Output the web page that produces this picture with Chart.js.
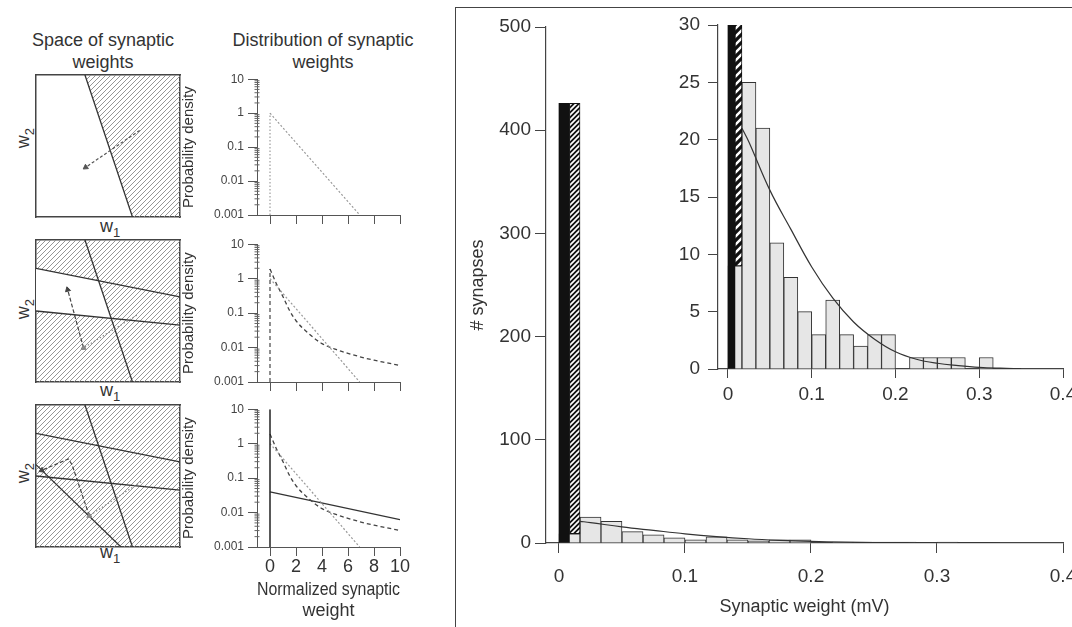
<!DOCTYPE html>
<html>
<head>
<meta charset="utf-8">
<title>Synaptic weights</title>
<script src="https://cdn.jsdelivr.net/npm/chart.js@4.4.1/dist/chart.umd.min.js"></script>
<style>
  body { margin:0; width:1072px; height:627px; overflow:hidden; background:#fff; position:relative;
         font-family:"Liberation Sans", Arial, sans-serif; color:#333; }
  canvas { position:absolute; }
  .head { position:absolute; width:220px; text-align:center; font-size:18px; line-height:22px; }
  .w { position:absolute; width:30px; height:24px; line-height:24px; text-align:center; font-size:18px; color:#333; }
  .w sub { font-size:13px; color:#333; }
  .rot { transform:rotate(-90deg); }
  .frame { position:absolute; left:455px; top:7px; width:640px; height:640px;
           border-left:1.5px solid #444; border-top:1.5px solid #444; }
</style>
</head>
<body>
<div class="frame"></div>
<div class="head" style="left:-7px;top:29px">Space of synaptic<br>weights</div>
<div class="head" style="left:213px;top:29px">Distribution of synaptic<br>weights</div>

<div class="w rot" style="left:8px;top:126px">w<sub>2</sub></div>
<div class="w rot" style="left:8px;top:297px">w<sub>2</sub></div>
<div class="w rot" style="left:8px;top:461px">w<sub>2</sub></div>
<div class="w" style="left:95px;top:214px">w<sub>1</sub></div>
<div class="w" style="left:95px;top:378px">w<sub>1</sub></div>
<div class="w" style="left:95px;top:540px">w<sub>1</sub></div>

<script>
// weight space panels, w1 and w2 both run 0..1
const steep = [[0.34, 1], [0.67, 0]];
const cut1 = [[0, 0.80], [1, 0.60]];
const cut2 = [[0, 0.50], [1, 0.40]];
const cut3 = [[0, 0.58], [0.59, 0]];
const shade1 = [[0.34, 1], [1, 1], [1, 0], [0.67, 0]];
const shadeAll = [[0, 0], [1, 0], [1, 1], [0, 1]];
const clear2 = [[0, 0.80], [0.435, 0.713], [0.522, 0.448], [0, 0.50]];
const path1 = [[0.72, 0.61], [0.345, 0.35]];
const path2a = [[0.70, 0.47], [0.33, 0.24]];
const path2b = [[0.33, 0.24], [0.22, 0.65]];
const path3a = [[0.73, 0.46], [0.37, 0.22]];
const path3b = [[0.37, 0.22], [0.25, 0.58], [0.225, 0.62], [0.04, 0.54]];

// probability density panels
const normX = [0, 0.5, 1, 1.5, 2, 3, 4, 5, 6, 7, 8, 9, 10];
const heavyY = [1.9, 0.7, 0.3, 0.12, 0.06, 0.025, 0.013, 0.009, 0.0068, 0.0053, 0.0043, 0.0036, 0.003];
const expX = [0, 6.9];
const expY = [1, 0.001];
const flatX = [0, 10];
const flatY = [0.04, 0.0062];
const normMin = -1;
const normTicks = [0, 2, 4, 6, 8, 10];
const decadeTicks = [0.001, 0.01, 0.1, 1, 10];
const minorSteps = [2, 3, 4, 5, 6, 7, 8, 9];

// measured histogram (mV)
const binStart = [0, 0.0167, 0.0333, 0.05, 0.0667, 0.0833, 0.1, 0.1167, 0.1333, 0.15,
                  0.1667, 0.1833, 0.2, 0.2167, 0.2333, 0.25, 0.2667, 0.2833, 0.3];
const binCount = [9, 25, 21, 11, 8, 5, 3, 6, 3, 2, 3, 3, 0, 1, 1, 1, 1, 0, 1];
const binW = 0.0167;
const silentEdges = [0, 0.0083];
const silentCount = 426;
const hatchEdges = [0.0083, 0.0167];
const hatchCounts = [9, 426];
const fitX = [0.0167, 0.025, 0.05, 0.075, 0.1, 0.125, 0.15, 0.175, 0.2, 0.225, 0.25, 0.275, 0.3, 0.325, 0.35];
const fitY = [21, 19.8, 15.6, 12.2, 8.9, 6.2, 4.1, 2.6, 1.5, 0.85, 0.5, 0.3, 0.15, 0.07, 0.02];
const weightTicks = [0, 0.1, 0.2, 0.3, 0.4];

Chart.defaults.font.family = '"Liberation Sans", Arial, sans-serif';
Chart.defaults.color = '#333';
Chart.defaults.animation = false;
Chart.defaults.plugins.legend.display = false;
Chart.defaults.plugins.tooltip.enabled = false;

function place(id, x, y, w, h) {
    var c = document.createElement('canvas');
    c.id = id;
    c.width = w; c.height = h;
    c.style.left = x + 'px'; c.style.top = y + 'px';
    c.style.width = w + 'px'; c.style.height = h + 'px';
    document.body.appendChild(c);
    return c.getContext('2d');
}

function stripes(size, bg, fg, lw) {
    var c = document.createElement('canvas');
    c.width = c.height = size;
    var g = c.getContext('2d');
    if (bg) { g.fillStyle = bg; g.fillRect(0, 0, size, size); }
    g.strokeStyle = fg;
    g.lineWidth = lw;
    g.beginPath();
    g.moveTo(-1, size + 1); g.lineTo(size + 1, -1);
    g.moveTo(-1, 1); g.lineTo(1, -1);
    g.moveTo(size - 1, size + 1); g.lineTo(size + 1, size - 1);
    g.stroke();
    return g.createPattern(c, 'repeat');
}

const pts = a => a.map(p => ({x: p[0], y: p[1]}));
const zip = (xs, ys) => xs.map((x, i) => ({x: x, y: ys[i]}));
const sqHatch = stripes(5, null, '#8a8a8a', 0.9);

function area(p, color, order) {
    return { data: pts(p), fill: 'shape', backgroundColor: color, borderColor: 'rgba(0,0,0,0)',
             borderWidth: 0, pointRadius: 0, order: order };
}
function cut(p) {
    return { data: pts(p), fill: false, borderColor: '#333', borderWidth: 1.3, pointRadius: 0, order: 2 };
}
function arrow(p, color, dash) {
    const n = p.length;
    const dx = p[n - 1][0] - p[n - 2][0], dy = p[n - 1][1] - p[n - 2][1];
    return { data: pts(p), fill: false, borderColor: color, borderWidth: 1.2, borderDash: dash,
             pointRadius: c => c.dataIndex === n - 1 ? 3 : 0, pointStyle: 'triangle',
             pointRotation: Math.atan2(dx, dy) * 180 / Math.PI,
             pointBackgroundColor: color, pointBorderColor: color, pointBorderWidth: 1, order: 1 };
}

function weightSquare(id, top, datasets) {
    const ctx = place(id, 31, top - 5, 154, 152);
    const edge = (axis, position) => ({
        type: 'linear', axis: axis, position: position, min: 0, max: 1,
        grid: { display: false }, ticks: { display: false },
        border: { display: true, color: '#444', width: 1.5 },
        afterFit: s => { if (axis === 'x') s.height = 0; else s.width = 0; }
    });
    return new Chart(ctx, {
        type: 'line',
        data: { datasets: datasets },
        options: {
            responsive: false, devicePixelRatio: 1,
            layout: { padding: 5 },
            scales: { x: edge('x', 'bottom'), y: edge('y', 'left'), x2: edge('x', 'top'), y2: edge('y', 'right') }
        }
    });
}

weightSquare('sq1', 75, [
    area(shade1, sqHatch, 10),
    cut(steep),
    arrow(path1, '#555', [3, 2])
]);
weightSquare('sq2', 240, [
    area(shadeAll, sqHatch, 10),
    area(clear2, '#fff', 9),
    cut(steep), cut(cut1), cut(cut2),
    arrow(path2a, '#888', [1.5, 2]),
    arrow(path2b, '#444', [4, 2])
]);
weightSquare('sq3', 405, [
    area(shadeAll, sqHatch, 10),
    cut(steep), cut(cut1), cut(cut2), cut(cut3),
    arrow(path3a, '#888', [1.5, 2]),
    arrow(path3b, '#444', [4, 2])
]);

// log density panels
const decadeLabel = v => v >= 1 ? String(Math.round(v)) : v.toFixed(Math.round(-Math.log10(v)));
const minorTicks = decadeTicks.slice(0, -1).flatMap(d => minorSteps.map(k => d * k));

function densityPanel(id, top, height, labels, datasets) {
    const xH = labels ? 80 : 13;
    const ctx = place(id, 175, top - 8, 237, 8 + height + xH);
    // the short minor log ticks, sitting on the y axis line
    datasets.push({ data: minorTicks.map(v => ({x: normMin, y: v})), showLine: false, pointStyle: 'line',
                    pointRadius: 2.5, pointBorderColor: '#666', pointBorderWidth: 1, clip: false });
    return new Chart(ctx, {
        type: 'line',
        data: { datasets: datasets },
        options: {
            responsive: false, devicePixelRatio: 1,
            layout: { padding: { top: 8, right: 12, left: 0, bottom: 0 } },
            scales: {
                x: {
                    type: 'linear', min: normMin, max: 10,
                    afterBuildTicks: s => { s.ticks = normTicks.map(v => ({value: v})); },
                    afterFit: s => { s.height = xH; },
                    grid: { drawOnChartArea: false, tickLength: 9, color: '#555' },
                    border: { color: '#555' },
                    ticks: { display: labels, padding: 0, font: { size: 18 }, color: '#333', maxRotation: 0, autoSkip: false },
                    title: {
                        display: labels, text: ['Normalized synaptic', 'weight'],
                        font: { size: 18, lineHeight: 1.17 }, color: '#333', padding: { top: 0, bottom: 5 }
                    }
                },
                y: {
                    type: 'logarithmic', min: 0.001, max: 10,
                    afterBuildTicks: s => { s.ticks = decadeTicks.map(v => ({value: v})); },
                    afterFit: s => { s.width = 82; },
                    grid: { drawOnChartArea: false, tickLength: 9, color: '#555' },
                    border: { color: '#555' },
                    ticks: { autoSkip: false, padding: 4, font: { size: 12 }, color: '#444',
                             callback: v => decadeLabel(v) },
                    title: { display: true, text: 'Probability density', font: { size: 15 }, color: '#333',
                             padding: { top: 5, bottom: 0 } }
                }
            }
        }
    });
}

const expLine = { data: zip(expX, expY), borderColor: '#999', borderWidth: 1.2, borderDash: [2, 2], pointRadius: 0, fill: false };
const heavyLine = { data: zip(normX, heavyY), borderColor: '#444', borderWidth: 1.3, borderDash: [4, 3], pointRadius: 0,
                    fill: false, cubicInterpolationMode: 'monotone' };

densityPanel('pd1', 76, 139, false, [
    { data: zip([0, 0], [0.001, 1]), borderColor: '#888', borderWidth: 1, borderDash: [1.5, 2], pointRadius: 0, fill: false },
    expLine
]);
densityPanel('pd2', 241, 141, false, [
    { data: zip([0, 0], [0.001, heavyY[0]]), borderColor: '#444', borderWidth: 1.2, borderDash: [4, 3], pointRadius: 0, fill: false },
    expLine, heavyLine
]);
densityPanel('pd3', 406, 141, true, [
    { data: zip([0, 0], [0.001, 10]), borderColor: '#222', borderWidth: 1.5, pointRadius: 0, fill: false },
    expLine, heavyLine,
    { data: zip(flatX, flatY), borderColor: '#333', borderWidth: 1.3, pointRadius: 0, fill: false }
]);

// histograms: full range and the 0-30 inset
function histogram(id, box, cfg) {
    const ctx = place(id, box.x, box.y, box.w, box.h);
    const perUnit = (box.w - cfg.yAxisW - cfg.padRight) / (0.4 - cfg.xMin);
    const datasets = [
        { type: 'line', data: zip(fitX, fitY), borderColor: '#333', borderWidth: 1.2, pointRadius: 0,
          tension: 0.4, fill: false, order: 1 },
        { data: [{x: (silentEdges[0] + silentEdges[1]) / 2, y: [0, silentCount]}], backgroundColor: '#111',
          borderWidth: 0, barThickness: (silentEdges[1] - silentEdges[0]) * perUnit, grouped: false, order: 2 },
        { data: [{x: (hatchEdges[0] + hatchEdges[1]) / 2, y: hatchCounts}], backgroundColor: cfg.hatch,
          borderColor: '#111', borderWidth: 1, borderSkipped: false,
          barThickness: (hatchEdges[1] - hatchEdges[0]) * perUnit, grouped: false, order: 2 },
        { data: binStart.map((s, i) => ({x: s + binW / 2, y: binCount[i]})), backgroundColor: '#e6e6e6',
          borderColor: '#333', borderWidth: 1, barThickness: binW * perUnit, grouped: false, order: 3 }
    ];
    return new Chart(ctx, {
        type: 'bar',
        data: { datasets: datasets },
        options: {
            responsive: false, devicePixelRatio: 1,
            layout: { padding: { top: cfg.padTop, right: cfg.padRight, left: 0, bottom: 0 } },
            scales: {
                x: {
                    type: 'linear', min: cfg.xMin, max: 0.4, offset: false,
                    afterBuildTicks: s => { s.ticks = weightTicks.map(v => ({value: v})); },
                    afterFit: s => { s.height = cfg.xAxisH; },
                    grid: { drawOnChartArea: false, offset: false, tickLength: cfg.xTick, color: '#444' },
                    border: { color: '#444', width: 1.2 },
                    ticks: { padding: cfg.xPad, font: { size: 19 }, color: '#333', maxRotation: 0, autoSkip: false,
                             callback: v => String(v) },
                    title: cfg.xTitle ? { display: true, text: cfg.xTitle, font: { size: 18 }, color: '#333',
                                          padding: { top: 0, bottom: 9 } } : { display: false }
                },
                y: {
                    type: 'linear', min: 0, max: cfg.yMax,
                    afterFit: s => { s.width = cfg.yAxisW; },
                    grid: { drawOnChartArea: false, tickLength: cfg.yTick, color: '#444' },
                    border: { color: '#444', width: 1.2 },
                    ticks: { stepSize: cfg.yStep, padding: cfg.yPad, font: { size: 19 }, color: '#333' },
                    title: cfg.yTitle ? { display: true, text: cfg.yTitle, font: { size: 18 }, color: '#333',
                                          padding: { top: 7, bottom: 0 } } : { display: false }
                }
            }
        }
    });
}

histogram('main', {x: 460, y: 0, w: 630, h: 627}, {
    xMin: -0.0103, yMax: 500, yStep: 100, yAxisW: 86, padTop: 27, padRight: 27, xAxisH: 84,
    xTick: 10, yTick: 11, xPad: 12, yPad: 4, hatch: stripes(5, '#111', '#fff', 1.7),
    xTitle: 'Synaptic weight (mV)', yTitle: '# synapses'
});
histogram('inset', {x: 660, y: 0, w: 430, h: 420}, {
    xMin: -0.0119, yMax: 30, yStep: 5, yAxisW: 58, padTop: 25, padRight: 27, xAxisH: 51,
    xTick: 9, yTick: 10, xPad: 5, yPad: 8, hatch: stripes(8, '#111', '#fff', 2.4),
    xTitle: null, yTitle: null
});
</script>
</body>
</html>
